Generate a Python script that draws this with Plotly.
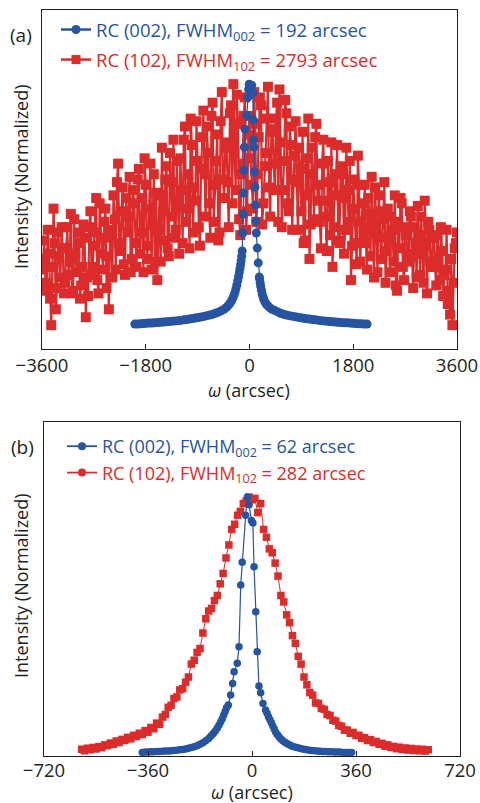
import plotly.graph_objects as go

BLUE = "#2654a0"
RED = "#dc2b2b"
INK = "#231f20"
FONT = "Open Sans"

# ---------------- Panel (a) ----------------
a_blue_x = [-1990, -1940, -1890, -1840, -1790, -1740, -1690, -1640, -1590, -1540,
            -1490, -1440, -1390, -1340, -1290, -1240, -1190, -1140, -1090, -1040,
            -990, -940, -890, -840, -790, -740, -690, -640, -590, -540,
            -490, -440, -400, -370, -340, -310, -290, -270, -250, -235,
            -220, -205, -190, -178, -166, -155, -145, -135, -127, -118,
            -110, -106, -100, -90, -78, -49, -30, -15, -5, 15,
            38, 55, 66, 70, 78, 82, 95, 100, 107, 118,
            135, 152, 170, 175, 185, 195, 207, 220, 235, 250,
            270, 290, 320, 350, 390, 440, 490, 540, 590, 640,
            690, 740, 790, 840, 890, 940, 990, 1040, 1090, 1140,
            1190, 1240, 1290, 1340, 1390, 1440, 1490, 1540, 1590, 1640,
            1690, 1740, 1790, 1840, 1890, 1940, 1990, 2040]
a_blue_y = [0.094, 0.094, 0.095, 0.096, 0.097, 0.098, 0.098, 0.099, 0.100, 0.101,
            0.102, 0.103, 0.104, 0.105, 0.106, 0.107, 0.108, 0.110, 0.111, 0.113,
            0.115, 0.117, 0.119, 0.121, 0.123, 0.126, 0.128, 0.131, 0.135, 0.139,
            0.144, 0.150, 0.157, 0.164, 0.172, 0.182, 0.192, 0.203, 0.215, 0.228,
            0.242, 0.257, 0.273, 0.288, 0.303, 0.318, 0.333, 0.350, 0.370, 0.438,
            0.509, 0.589, 0.675, 0.762, 0.830, 0.883, 0.950, 0.980, 1.000, 0.990,
            0.996, 0.966, 0.864, 0.789, 0.762, 0.668, 0.611, 0.543, 0.483, 0.438,
            0.381, 0.325, 0.272, 0.265, 0.250, 0.236, 0.222, 0.208, 0.196, 0.186,
            0.177, 0.170, 0.163, 0.156, 0.150, 0.145, 0.140, 0.135, 0.131, 0.128,
            0.126, 0.124, 0.122, 0.120, 0.118, 0.116, 0.114, 0.113, 0.111, 0.110,
            0.109, 0.107, 0.106, 0.105, 0.104, 0.103, 0.102, 0.101, 0.100, 0.099,
            0.099, 0.098, 0.097, 0.096, 0.095, 0.095, 0.094, 0.094]

# red (102) scan, read on the 40-arcsec grid ...
a_red_x = [-3600, -3560, -3520, -3480, -3440, -3400, -3360, -3320, -3280, -3240,
           -3200, -3160, -3120, -3080, -3040, -3000, -2960, -2920, -2880, -2840,
           -2800, -2760, -2720, -2680, -2640, -2600, -2560, -2520, -2480, -2440,
           -2400, -2360, -2320, -2280, -2240, -2200, -2160, -2120, -2080, -2040,
           -2000, -1960, -1920, -1880, -1840, -1800, -1760, -1720, -1680, -1640,
           -1600, -1560, -1520, -1480, -1440, -1400, -1360, -1320, -1280, -1240,
           -1200, -1160, -1120, -1080, -1040, -1000, -960, -920, -880, -840,
           -800, -760, -720, -680, -640, -600, -560, -520, -480, -440,
           -400, -360, -320, -280, -240, -200, -160, -120, -80, -40,
           0, 40, 80, 120, 160, 200, 240, 280, 320, 360,
           400, 440, 480, 520, 560, 600, 640, 680, 720, 760,
           800, 840, 880, 920, 960, 1000, 1040, 1080, 1120, 1160,
           1200, 1240, 1280, 1320, 1360, 1400, 1440, 1480, 1520, 1560,
           1600, 1640, 1680, 1720, 1760, 1800, 1840, 1880, 1920, 1960,
           2000, 2040, 2080, 2120, 2160, 2200, 2240, 2280, 2320, 2360,
           2400, 2440, 2480, 2520, 2560, 2600, 2640, 2680, 2720, 2760,
           2800, 2840, 2880, 2920, 2960, 3000, 3040, 3080, 3120, 3160,
           3200, 3240, 3280, 3320, 3360, 3400, 3440, 3480, 3520, 3560, 3600]
a_red_y = [0.30, 0.41, 0.22, 0.36, 0.09, 0.53, 0.15, 0.44, 0.27, 0.38,
           0.25, 0.46, 0.33, 0.21, 0.49, 0.29, 0.40, 0.24, 0.47, 0.12,
           0.20, 0.52, 0.31, 0.44, 0.26, 0.55, 0.36, 0.48, 0.23, 0.15,
           0.42, 0.58, 0.30, 0.70, 0.37, 0.61, 0.28, 0.50, 0.65, 0.34,
           0.55, 0.31, 0.68, 0.44, 0.29, 0.62, 0.39, 0.70, 0.47, 0.33,
           0.26, 0.58, 0.76, 0.41, 0.69, 0.35, 0.63, 0.79, 0.45, 0.55,
           0.72, 0.40, 0.84, 0.53, 0.38, 0.77, 0.61, 0.86, 0.46, 0.68,
           0.90, 0.50, 0.74, 0.42, 0.93, 0.62, 0.81, 0.44, 0.97, 0.57,
           0.78, 0.46, 0.92, 1.00, 0.60, 0.85, 0.43, 0.70, 0.95, 0.52,
           0.88, 0.62, 0.97, 0.48, 0.80, 0.92, 0.55, 0.74, 0.99, 0.50,
           0.83, 0.60, 0.93, 0.98, 0.46, 0.71, 0.89, 0.52, 0.77, 0.64,
           0.86, 0.45, 0.68, 0.82, 0.41, 0.58, 0.34, 0.76, 0.49, 0.85,
           0.62, 0.38, 0.79, 0.50, 0.71, 0.43, 0.31, 0.66, 0.77, 0.40,
           0.57, 0.36, 0.76, 0.48, 0.26, 0.64, 0.40, 0.73, 0.33, 0.55,
           0.62, 0.30, 0.51, 0.65, 0.27, 0.44, 0.58, 0.34, 0.49, 0.25,
           0.53, 0.29, 0.45, 0.58, 0.22, 0.38, 0.55, 0.26, 0.43, 0.33,
           0.50, 0.23, 0.40, 0.54, 0.28, 0.36, 0.56, 0.21, 0.45, 0.31,
           0.42, 0.24, 0.35, 0.46, 0.20, 0.30, 0.17, 0.13, 0.09, 0.38, 0.44]
# ... and the points lying between them
a_red_x_mid = [-3580, -3540, -3500, -3460, -3420, -3380, -3340, -3300, -3260, -3220,
               -3180, -3140, -3100, -3060, -3020, -2980, -2940, -2900, -2860, -2820,
               -2780, -2740, -2700, -2660, -2620, -2580, -2540, -2500, -2460, -2420,
               -2380, -2340, -2300, -2260, -2220, -2180, -2140, -2100, -2060, -2020,
               -1980, -1940, -1900, -1860, -1820, -1780, -1740, -1700, -1660, -1620,
               -1580, -1540, -1500, -1460, -1420, -1380, -1340, -1300, -1260, -1220,
               -1180, -1140, -1100, -1060, -1020, -980, -940, -900, -860, -820,
               -780, -740, -700, -660, -620, -580, -540, -500, -460, -420,
               -380, -340, -300, -260, -220, -180, -140, -100, -60, -20,
               20, 60, 100, 140, 180, 220, 260, 300, 340, 380,
               420, 460, 500, 540, 580, 620, 660, 700, 740, 780,
               820, 860, 900, 940, 980, 1020, 1060, 1100, 1140, 1180,
               1220, 1260, 1300, 1340, 1380, 1420, 1460, 1500, 1540, 1580,
               1620, 1660, 1700, 1740, 1780, 1820, 1860, 1900, 1940, 1980,
               2020, 2060, 2100, 2140, 2180, 2220, 2260, 2300, 2340, 2380,
               2420, 2460, 2500, 2540, 2580, 2620, 2660, 2700, 2740, 2780,
               2820, 2860, 2900, 2940, 2980, 3020, 3060, 3100, 3140, 3180,
               3220, 3260, 3300, 3340, 3380, 3420, 3460, 3500, 3540, 3580]
a_red_y_mid = [0.34, 0.25, 0.45, 0.19, 0.31, 0.40, 0.23, 0.35, 0.46, 0.21,
               0.38, 0.28, 0.51, 0.22, 0.36, 0.44, 0.19, 0.31, 0.42, 0.27,
               0.46, 0.28, 0.39, 0.57, 0.21, 0.42, 0.30, 0.53, 0.35, 0.45,
               0.27, 0.49, 0.63, 0.40, 0.52, 0.32, 0.57, 0.44, 0.29, 0.60,
               0.40, 0.64, 0.36, 0.57, 0.72, 0.34, 0.53, 0.30, 0.66, 0.59,
               0.45, 0.33, 0.52, 0.64, 0.38, 0.74, 0.50, 0.42, 0.71, 0.36,
               0.60, 0.79, 0.48, 0.66, 0.87, 0.44, 0.56, 0.71, 0.39, 0.80,
               0.66, 0.84, 0.55, 0.88, 0.48, 0.71, 0.41, 0.86, 0.64, 0.76,
               0.63, 0.89, 0.55, 0.74, 0.96, 0.49, 0.66, 0.88, 0.45, 0.81,
               0.72, 0.53, 0.85, 0.66, 0.95, 0.47, 0.69, 0.87, 0.61, 0.82,
               0.70, 0.87, 0.48, 0.78, 0.60, 0.94, 0.55, 0.84, 0.45, 0.73,
               0.63, 0.76, 0.52, 0.40, 0.72, 0.87, 0.47, 0.66, 0.80, 0.56,
               0.48, 0.70, 0.56, 0.37, 0.63, 0.78, 0.46, 0.58, 0.41, 0.69,
               0.66, 0.45, 0.60, 0.71, 0.39, 0.53, 0.32, 0.62, 0.48, 0.43,
               0.40, 0.57, 0.35, 0.46, 0.61, 0.29, 0.52, 0.42, 0.63, 0.37,
               0.41, 0.50, 0.33, 0.24, 0.48, 0.57, 0.31, 0.46, 0.36, 0.52,
               0.35, 0.46, 0.27, 0.43, 0.50, 0.25, 0.39, 0.48, 0.33, 0.42,
               0.31, 0.43, 0.26, 0.37, 0.28, 0.45, 0.22, 0.34, 0.25, 0.40]

a_tick_vals = [-3600, -1800, 0, 1800, 3600]
a_tick_text = ["\u22123600", "\u22121800", "0", "1800", "3600"]

# ---------------- Panel (b) ----------------
b_blue_x = [-380, -370, -360, -350, -340, -330, -320, -310, -300, -290,
            -280, -270, -260, -250, -240, -230, -220, -210, -200, -190,
            -180, -170, -160, -150, -142, -134, -127, -120, -114, -108,
            -103, -98, -93, -88,
            -82, -74, -67, -62, -51, -45, -39, -34, -22, -16,
            -10, -2, 3, 7, 13, 18, 24, 30, 38, 47,
            52, 57, 62, 67, 72, 77, 82, 88, 94, 100,
            107, 114, 121, 129, 137, 145, 155, 165, 175, 185,
            195, 205, 215, 225, 235, 245, 255, 265, 275, 285,
            295, 305, 315, 325, 335, 345]
b_blue_y = [0.014, 0.015, 0.015, 0.016, 0.016, 0.017, 0.017, 0.018, 0.019, 0.019,
            0.020, 0.021, 0.022, 0.024, 0.025, 0.027, 0.030, 0.033, 0.036, 0.040,
            0.045, 0.051, 0.059, 0.068, 0.077, 0.087, 0.097, 0.108, 0.120, 0.132,
            0.144, 0.158, 0.172, 0.186,
            0.197, 0.236, 0.280, 0.325, 0.358, 0.422, 0.660, 0.748, 0.930, 1.000,
            0.970, 0.910, 0.900, 0.731, 0.557, 0.403, 0.270, 0.244, 0.203, 0.178,
            0.165, 0.152, 0.140, 0.128, 0.116, 0.104, 0.092, 0.082, 0.073, 0.066,
            0.059, 0.053, 0.048, 0.043, 0.039, 0.036, 0.033, 0.030, 0.027, 0.025,
            0.023, 0.021, 0.020, 0.019, 0.018, 0.017, 0.017, 0.016, 0.016, 0.015,
            0.015, 0.015, 0.014, 0.014, 0.014, 0.014]

b_red_x = [-590, -580, -570, -560, -550, -540, -530, -520, -510, -500,
           -490, -480, -470, -460, -450, -440, -430, -420, -410, -400,
           -390, -380, -370, -360, -350, -340, -330, -320, -310, -300,
           -290, -280, -270, -260, -250, -240, -230, -220, -210, -200,
           -190, -180, -170, -160, -150, -140, -130, -120, -110, -100,
           -90, -80, -70, -60, -50, -40, -30, -20, -10, 0,
           10, 20, 30, 40, 50, 60, 70, 80, 90, 100,
           110, 120, 130, 140, 150, 160, 170, 180, 190, 200,
           210, 220, 230, 240, 250, 260, 270, 280, 290, 300,
           310, 320, 330, 340, 350, 360, 370, 380, 390, 400,
           410, 420, 430, 440, 450, 460, 470, 480, 490, 500,
           510, 520, 530, 540, 550, 560, 570, 580, 590, 600, 610]
b_red_y = [0.026, 0.020, 0.030, 0.024, 0.033, 0.027, 0.036, 0.032, 0.043, 0.040,
           0.050, 0.045, 0.058, 0.052, 0.064, 0.060, 0.072, 0.066, 0.080, 0.075,
           0.088, 0.083, 0.098, 0.092, 0.110, 0.105, 0.127, 0.122, 0.150, 0.160,
           0.188, 0.196, 0.222, 0.228, 0.255, 0.260, 0.285, 0.305, 0.355, 0.370,
           0.400, 0.415, 0.475, 0.530, 0.560, 0.570, 0.600, 0.620, 0.665, 0.705,
           0.765, 0.815, 0.875, 0.895, 0.930, 0.945, 0.975, 0.985, 1.000, 0.990,
           0.995, 0.940, 0.975, 0.875, 0.845, 0.800, 0.785, 0.745, 0.695, 0.620,
           0.595, 0.545, 0.515, 0.465, 0.435, 0.385, 0.355, 0.305, 0.275, 0.245,
           0.235, 0.205, 0.203, 0.184, 0.180, 0.160, 0.156, 0.138, 0.135, 0.118,
           0.115, 0.100, 0.100, 0.088, 0.091, 0.079, 0.080, 0.068, 0.071, 0.060,
           0.063, 0.052, 0.056, 0.045, 0.049, 0.038, 0.043, 0.033, 0.037, 0.028,
           0.034, 0.025, 0.031, 0.023, 0.029, 0.021, 0.027, 0.020, 0.026, 0.019, 0.024]

b_tick_vals = [-720, -360, 0, 360, 720]
b_tick_text = ["\u2212720", "\u2212360", "0", "360", "720"]

a_names = ["RC (002), FWHM<sub>002</sub> = 192 arcsec", "RC (102), FWHM<sub>102</sub> = 2793 arcsec"]
b_names = ["RC (002), FWHM<sub>002</sub> = 62 arcsec", "RC (102), FWHM<sub>102</sub> = 282 arcsec"]

W, H = 480, 803

# merge the two red (a) grids into one scan ordered by omega
red_pts = sorted(list(zip(a_red_x, a_red_y)) + list(zip(a_red_x_mid, a_red_y_mid)))
a_red_all_x = [p[0] for p in red_pts]
a_red_all_y = [p[1] for p in red_pts]


def span(color, txt):
    return f"<span style='color:{color}'>{txt}</span>"


fig = go.Figure()

# data traces, panel (a)
fig.add_trace(go.Scatter(x=a_red_all_x, y=a_red_all_y, mode="lines+markers", xaxis="x", yaxis="y",
                         line=dict(color=RED, width=2.2),
                         marker=dict(symbol="square", size=10, color=RED), showlegend=False))
fig.add_trace(go.Scatter(x=a_blue_x, y=a_blue_y, mode="lines+markers", xaxis="x", yaxis="y",
                         line=dict(color=BLUE, width=1.2),
                         marker=dict(symbol="circle", size=9, color=BLUE), showlegend=False))
# data traces, panel (b)
fig.add_trace(go.Scatter(x=b_red_x, y=b_red_y, mode="lines+markers", xaxis="x2", yaxis="y2",
                         line=dict(color=RED, width=1),
                         marker=dict(symbol="square", size=7.5, color=RED), showlegend=False))
fig.add_trace(go.Scatter(x=b_blue_x, y=b_blue_y, mode="lines+markers", xaxis="x2", yaxis="y2",
                         line=dict(color=BLUE, width=1.2),
                         marker=dict(symbol="circle", size=7.5, color=BLUE), showlegend=False))

# legend entries
fig.add_trace(go.Scatter(x=[None], y=[None], mode="lines+markers", xaxis="x", yaxis="y",
                         name=span(BLUE, a_names[0]), legend="legend", legendgroup="a1",
                         line=dict(color=BLUE, width=2.5), marker=dict(symbol="circle", size=9, color=BLUE)))
fig.add_trace(go.Scatter(x=[None], y=[None], mode="lines+markers", xaxis="x", yaxis="y",
                         name=span(RED, a_names[1]), legend="legend", legendgroup="a2",
                         line=dict(color=RED, width=2.5), marker=dict(symbol="square", size=9, color=RED)))
fig.add_trace(go.Scatter(x=[None], y=[None], mode="lines+markers", xaxis="x2", yaxis="y2",
                         name=span(BLUE, b_names[0]), legend="legend2",
                         line=dict(color=BLUE, width=1.8), marker=dict(symbol="circle", size=8, color=BLUE)))
fig.add_trace(go.Scatter(x=[None], y=[None], mode="lines+markers", xaxis="x2", yaxis="y2",
                         name=span(RED, b_names[1]), legend="legend2",
                         line=dict(color=RED, width=1.8), marker=dict(symbol="circle", size=8, color=RED)))

axis_common = dict(showline=True, mirror=True, linecolor=INK, linewidth=1.3,
                   showgrid=False, zeroline=False, automargin=False)

fig.update_layout(
    width=W, height=H, margin=dict(l=0, r=0, t=0, b=0, autoexpand=False),
    paper_bgcolor="white", plot_bgcolor="white",
    font=dict(family=FONT, color=INK, size=18),
    xaxis=dict(domain=[42 / W, 457 / W], range=[-3600, 3600], anchor="y",
               tickvals=a_tick_vals, ticktext=a_tick_text, ticks="inside", ticklen=5,
               tickcolor=INK, tickfont=dict(size=18.5, color=INK), ticklabelstandoff=0,
               **axis_common),
    yaxis=dict(domain=[1 - 349 / H, 1 - 10 / H], range=[0, 1.28], anchor="x",
               showticklabels=False, ticks="", **axis_common),
    xaxis2=dict(domain=[44 / W, 460 / W], range=[-720, 720], anchor="y2",
                tickvals=b_tick_vals, ticktext=b_tick_text, ticks="inside", ticklen=5,
                tickcolor=INK, tickfont=dict(size=18.5, color=INK), ticklabelstandoff=-2,
                **axis_common),
    yaxis2=dict(domain=[1 - 756 / H, 1 - 422 / H], range=[0, 1.29], anchor="x2",
                showticklabels=False, ticks="", **axis_common),
    legend=dict(x=56 / W, y=1 - 11 / H, xanchor="left", yanchor="top",
                bgcolor="rgba(0,0,0,0)", font=dict(size=18.5, family=FONT),
                tracegroupgap=3, itemwidth=30),
    legend2=dict(x=62 / W, y=1 - 428 / H, xanchor="left", yanchor="top",
                 bgcolor="rgba(0,0,0,0)", font=dict(size=18, family=FONT),
                 tracegroupgap=0, itemwidth=30),
    annotations=[
        dict(text="(a)", x=21 / W, y=1 - 35 / H, xref="paper", yref="paper",
             xanchor="center", yanchor="middle", showarrow=False, font=dict(size=19, color=INK)),
        dict(text="(b)", x=22 / W, y=1 - 447 / H, xref="paper", yref="paper",
             xanchor="center", yanchor="middle", showarrow=False, font=dict(size=19, color=INK)),
        dict(text="Intensity (Normalized)", x=21 / W, y=1 - 177 / H, xref="paper", yref="paper",
             xanchor="center", yanchor="middle",
             textangle=-90, showarrow=False, font=dict(size=18, color=INK)),
        dict(text="Intensity (Normalized)", x=21 / W, y=1 - 586 / H, xref="paper", yref="paper",
             xanchor="center", yanchor="middle",
             textangle=-90, showarrow=False, font=dict(size=18, color=INK)),
        dict(text="<i>\u03c9</i> (arcsec)", x=249 / W, y=1 - 390 / H, xref="paper", yref="paper",
             xanchor="center", yanchor="middle", showarrow=False, font=dict(size=18, color=INK)),
        dict(text="<i>\u03c9</i> (arcsec)", x=252 / W, y=1 - 792 / H, xref="paper", yref="paper",
             xanchor="center", yanchor="middle", showarrow=False, font=dict(size=18, color=INK)),
    ],
)

fig.write_html("out.html", config={"displayModeBar": False},
               post_script="document.body.style.margin='0';document.body.style.padding='0';"
                           "document.documentElement.style.overflow='hidden';")
